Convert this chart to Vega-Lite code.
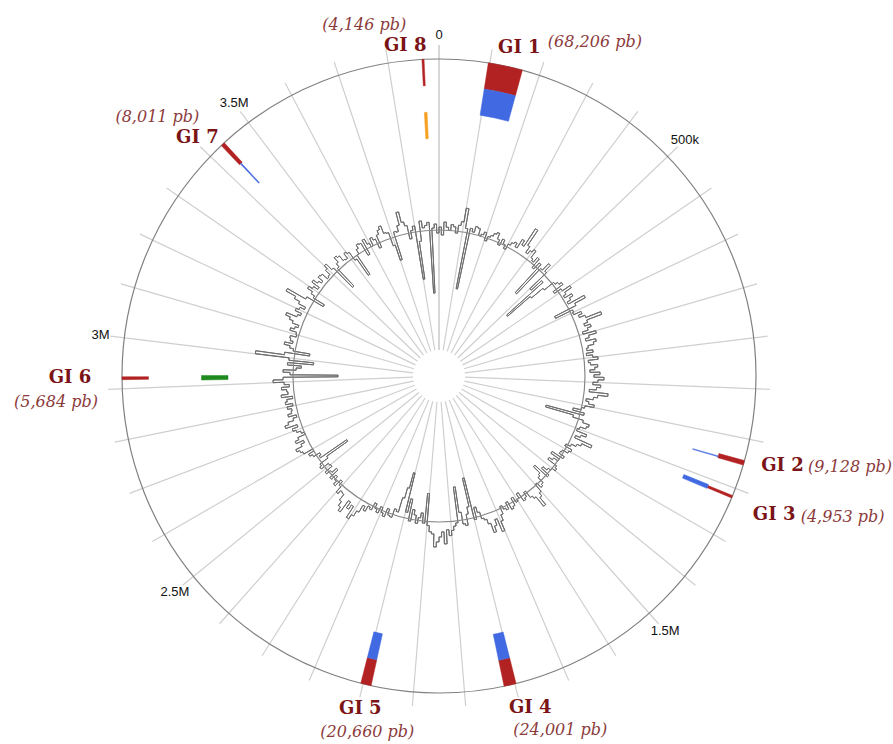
{
  "$schema": "https://vega.github.io/schema/vega-lite/v6.json",
  "width": 878,
  "height": 736,
  "padding": {"left": 0, "top": 8, "right": 15, "bottom": 0},
  "autosize": {"type": "none"},
  "background": "white",
  "config": {"view": {"stroke": null}},
  "datasets": {
    "grid": [
      {"p": 0}, {"p": 100000}, {"p": 200000}, {"p": 300000}, {"p": 400000}, {"p": 500000}, {"p": 600000}, {"p": 700000}, {"p": 800000}, {"p": 900000},
      {"p": 1000000}, {"p": 1100000}, {"p": 1200000}, {"p": 1300000}, {"p": 1400000}, {"p": 1500000}, {"p": 1600000}, {"p": 1700000}, {"p": 1800000}, {"p": 1900000},
      {"p": 2000000}, {"p": 2100000}, {"p": 2200000}, {"p": 2300000}, {"p": 2400000}, {"p": 2500000}, {"p": 2600000}, {"p": 2700000}, {"p": 2800000}, {"p": 2900000},
      {"p": 3000000}, {"p": 3100000}, {"p": 3200000}, {"p": 3300000}, {"p": 3400000}, {"p": 3500000}, {"p": 3600000}, {"p": 3700000}, {"p": 3800000}, {"p": 3900000}
    ],
    "ticks": [
      {"p": 0, "t": "0"}, {"p": 500000, "t": "500k"}, {"p": 1500000, "t": "1.5M"},
      {"p": 2500000, "t": "2.5M"}, {"p": 3000000, "t": "3M"}, {"p": 3500000, "t": "3.5M"}
    ],
    "islands": [
      {"gi": "GI 1", "method": "Integrated", "start": 97000, "end": 165206, "len": "(68,206 pb)"},
      {"gi": "GI 2", "method": "Integrated", "start": 1142700, "end": 1151828, "len": "(9,128 pb)"},
      {"gi": "GI 3", "method": "Integrated", "start": 1215100, "end": 1220053, "len": "(4,953 pb)"},
      {"gi": "GI 4", "method": "Integrated", "start": 1797600, "end": 1821601, "len": "(24,001 pb)"},
      {"gi": "GI 5", "method": "Integrated", "start": 2084000, "end": 2104660, "len": "(20,660 pb)"},
      {"gi": "GI 6", "method": "Integrated", "start": 2917800, "end": 2923484, "len": "(5,684 pb)"},
      {"gi": "GI 7", "method": "Integrated", "start": 3430100, "end": 3438111, "len": "(8,011 pb)"},
      {"gi": "GI 8", "method": "Integrated", "start": 3866500, "end": 3870646, "len": "(4,146 pb)"},
      {"gi": "GI 1", "method": "IslandPath-DIMOB", "start": 97000, "end": 165206},
      {"gi": "GI 2", "method": "IslandPath-DIMOB", "start": 1148000, "end": 1149800},
      {"gi": "GI 3", "method": "IslandPath-DIMOB", "start": 1212500, "end": 1221500},
      {"gi": "GI 4", "method": "IslandPath-DIMOB", "start": 1797600, "end": 1821601},
      {"gi": "GI 5", "method": "IslandPath-DIMOB", "start": 2084000, "end": 2104660},
      {"gi": "GI 7", "method": "IslandPath-DIMOB", "start": 3433000, "end": 3435500},
      {"gi": "GI 8", "method": "SIGI-HMM", "start": 3865500, "end": 3872000},
      {"gi": "GI 6", "method": "IslandPick", "start": 2914500, "end": 2926500}
    ],
    "gc": [
      {"p":0,"gc":0.03},{"p":10000,"gc":-0.05},{"p":20000,"gc":0.08},{"p":30000,"gc":0.03},{"p":40000,"gc":0},{"p":50000,"gc":0.06},{"p":60000,"gc":0.04},{"p":70000,"gc":-0.02},{"p":80000,"gc":0.06},{"p":90000,"gc":0.10},
      {"p":100000,"gc":0.24},{"p":110000,"gc":0.04},{"p":120000,"gc":-0.57},{"p":130000,"gc":0.05},{"p":140000,"gc":0.02},{"p":150000,"gc":0.08},{"p":160000,"gc":0.07},{"p":170000,"gc":0},{"p":180000,"gc":0.02},{"p":190000,"gc":0.05},
      {"p":200000,"gc":-0.03},{"p":210000,"gc":0.02},{"p":220000,"gc":0.04},{"p":230000,"gc":0.07},{"p":240000,"gc":0.09},{"p":250000,"gc":0.03},{"p":260000,"gc":-0.02},{"p":270000,"gc":0.05},{"p":280000,"gc":0.01},{"p":290000,"gc":-0.03},
      {"p":300000,"gc":0.03},{"p":310000,"gc":0.06},{"p":320000,"gc":0.08},{"p":330000,"gc":0.04},{"p":340000,"gc":0.14},{"p":350000,"gc":0.09},{"p":360000,"gc":0.30},{"p":370000,"gc":0.12},{"p":380000,"gc":0.05},{"p":390000,"gc":0.09},
      {"p":400000,"gc":0.12},{"p":410000,"gc":0.04},{"p":420000,"gc":0.02},{"p":430000,"gc":0.08},{"p":440000,"gc":-0.03},{"p":450000,"gc":0.05},{"p":460000,"gc":-0.33},{"p":470000,"gc":0.02},{"p":480000,"gc":0.11},{"p":490000,"gc":0.03},
      {"p":500000,"gc":-0.20},{"p":510000,"gc":-0.06},{"p":520000,"gc":-0.55},{"p":530000,"gc":-0.25},{"p":540000,"gc":-0.10},{"p":550000,"gc":0.02},{"p":560000,"gc":0.05},{"p":570000,"gc":0.08},{"p":580000,"gc":-0.04},{"p":590000,"gc":0.04},
      {"p":600000,"gc":0.13},{"p":610000,"gc":0.05},{"p":620000,"gc":0.02},{"p":630000,"gc":0.10},{"p":640000,"gc":0.06},{"p":650000,"gc":0.02},{"p":660000,"gc":0.20},{"p":670000,"gc":0.08},{"p":680000,"gc":-0.16},{"p":690000,"gc":0.03},
      {"p":700000,"gc":0.02},{"p":710000,"gc":0.10},{"p":720000,"gc":0.06},{"p":730000,"gc":0.12},{"p":740000,"gc":0.28},{"p":750000,"gc":0.12},{"p":760000,"gc":0.08},{"p":770000,"gc":0.14},{"p":780000,"gc":0.10},{"p":790000,"gc":0.04},
      {"p":800000,"gc":0.17},{"p":810000,"gc":0.09},{"p":820000,"gc":0.05},{"p":830000,"gc":0.15},{"p":840000,"gc":0.12},{"p":850000,"gc":0.06},{"p":860000,"gc":0.04},{"p":870000,"gc":0.10},{"p":880000,"gc":0.03},{"p":890000,"gc":0.09},
      {"p":900000,"gc":0.14},{"p":910000,"gc":0.04},{"p":920000,"gc":0.06},{"p":930000,"gc":0.13},{"p":940000,"gc":0.10},{"p":950000,"gc":0.05},{"p":960000,"gc":0.15},{"p":970000,"gc":0.09},{"p":980000,"gc":0.19},{"p":990000,"gc":0.13},
      {"p":1000000,"gc":0.08},{"p":1010000,"gc":0.16},{"p":1020000,"gc":0.12},{"p":1030000,"gc":0.05},{"p":1040000,"gc":0.24},{"p":1050000,"gc":0.14},{"p":1060000,"gc":0.10},{"p":1070000,"gc":0.03},{"p":1080000,"gc":0.06},{"p":1090000,"gc":0.12},
      {"p":1100000,"gc":0.03},{"p":1110000,"gc":0},{"p":1120000,"gc":-0.08},{"p":1130000,"gc":0.04},{"p":1140000,"gc":-0.35},{"p":1150000,"gc":-0.06},{"p":1160000,"gc":0.05},{"p":1170000,"gc":0.12},{"p":1180000,"gc":0.10},{"p":1190000,"gc":0.04},
      {"p":1200000,"gc":0.02},{"p":1210000,"gc":0.13},{"p":1220000,"gc":0.08},{"p":1230000,"gc":0.03},{"p":1240000,"gc":0.22},{"p":1250000,"gc":0.12},{"p":1260000,"gc":0.08},{"p":1270000,"gc":0.03},{"p":1280000,"gc":-0.02},{"p":1290000,"gc":0.06},
      {"p":1300000,"gc":0.04},{"p":1310000,"gc":-0.02},{"p":1320000,"gc":-0.03},{"p":1330000,"gc":0.03},{"p":1340000,"gc":-0.10},{"p":1350000,"gc":0},{"p":1360000,"gc":-0.05},{"p":1370000,"gc":-0.09},{"p":1380000,"gc":0.02},{"p":1390000,"gc":0.04},
      {"p":1400000,"gc":0},{"p":1410000,"gc":-0.03},{"p":1420000,"gc":-0.08},{"p":1430000,"gc":0.02},{"p":1440000,"gc":-0.15},{"p":1450000,"gc":-0.06},{"p":1460000,"gc":-0.04},{"p":1470000,"gc":0.03},{"p":1480000,"gc":0.05},{"p":1490000,"gc":-0.01},
      {"p":1500000,"gc":0.08},{"p":1510000,"gc":0.12},{"p":1520000,"gc":0.21},{"p":1530000,"gc":0.09},{"p":1540000,"gc":0.06},{"p":1550000,"gc":-0.02},{"p":1560000,"gc":0.03},{"p":1570000,"gc":0.05},{"p":1580000,"gc":-0.05},{"p":1590000,"gc":0},
      {"p":1600000,"gc":0.02},{"p":1610000,"gc":-0.04},{"p":1620000,"gc":0.04},{"p":1630000,"gc":0.06},{"p":1640000,"gc":-0.03},{"p":1650000,"gc":0.04},{"p":1660000,"gc":0.02},{"p":1670000,"gc":-0.02},{"p":1680000,"gc":0.06},{"p":1690000,"gc":0.12},
      {"p":1700000,"gc":0.22},{"p":1710000,"gc":0.08},{"p":1720000,"gc":0.14},{"p":1730000,"gc":0.20},{"p":1740000,"gc":0.10},{"p":1750000,"gc":0.05},{"p":1760000,"gc":0.03},{"p":1770000,"gc":-0.04},{"p":1780000,"gc":-0.10},{"p":1790000,"gc":0.02},
      {"p":1800000,"gc":-0.41},{"p":1810000,"gc":-0.12},{"p":1820000,"gc":-0.05},{"p":1830000,"gc":0.06},{"p":1840000,"gc":0.04},{"p":1850000,"gc":-0.08},{"p":1860000,"gc":-0.34},{"p":1870000,"gc":0.02},{"p":1880000,"gc":0.05},{"p":1890000,"gc":0.09},
      {"p":1900000,"gc":0.14},{"p":1910000,"gc":0.08},{"p":1920000,"gc":0.22},{"p":1930000,"gc":0.10},{"p":1940000,"gc":0.15},{"p":1950000,"gc":0.20},{"p":1960000,"gc":0.25},{"p":1970000,"gc":0.12},{"p":1980000,"gc":0.10},{"p":1990000,"gc":0.04},
      {"p":2000000,"gc":-0.28},{"p":2010000,"gc":0.02},{"p":2020000,"gc":-0.08},{"p":2030000,"gc":-0.03},{"p":2040000,"gc":0.03},{"p":2050000,"gc":-0.05},{"p":2060000,"gc":-0.10},{"p":2070000,"gc":0.02},{"p":2080000,"gc":-0.20},{"p":2090000,"gc":-0.06},
      {"p":2100000,"gc":-0.46},{"p":2110000,"gc":-0.30},{"p":2120000,"gc":-0.19},{"p":2130000,"gc":-0.04},{"p":2140000,"gc":-0.06},{"p":2150000,"gc":0.03},{"p":2160000,"gc":0.02},{"p":2170000,"gc":-0.04},{"p":2180000,"gc":0.05},{"p":2190000,"gc":0.02},
      {"p":2200000,"gc":-0.03},{"p":2210000,"gc":0.04},{"p":2220000,"gc":0.01},{"p":2230000,"gc":-0.04},{"p":2240000,"gc":0.04},{"p":2250000,"gc":0.02},{"p":2260000,"gc":0.08},{"p":2270000,"gc":0.04},{"p":2280000,"gc":0.12},{"p":2290000,"gc":0.18},
      {"p":2300000,"gc":0.23},{"p":2310000,"gc":0.10},{"p":2320000,"gc":0.15},{"p":2330000,"gc":0.08},{"p":2340000,"gc":0.22},{"p":2350000,"gc":0.18},{"p":2360000,"gc":0.13},{"p":2370000,"gc":0.06},{"p":2380000,"gc":0.05},{"p":2390000,"gc":0.09},
      {"p":2400000,"gc":0.02},{"p":2410000,"gc":-0.03},{"p":2420000,"gc":0.05},{"p":2430000,"gc":0.01},{"p":2440000,"gc":-0.03},{"p":2450000,"gc":0.03},{"p":2460000,"gc":-0.08},{"p":2470000,"gc":-0.02},{"p":2480000,"gc":0.03},{"p":2490000,"gc":-0.06},
      {"p":2500000,"gc":-0.05},{"p":2510000,"gc":0.04},{"p":2520000,"gc":0.02},{"p":2530000,"gc":-0.08},{"p":2540000,"gc":-0.34},{"p":2550000,"gc":-0.02},{"p":2560000,"gc":-0.04},{"p":2570000,"gc":0.03},{"p":2580000,"gc":0.06},{"p":2590000,"gc":0},
      {"p":2600000,"gc":0.10},{"p":2610000,"gc":0.12},{"p":2620000,"gc":0.15},{"p":2630000,"gc":0.08},{"p":2640000,"gc":0.04},{"p":2650000,"gc":0.12},{"p":2660000,"gc":0.08},{"p":2670000,"gc":0},{"p":2680000,"gc":0.03},{"p":2690000,"gc":0.07},
      {"p":2700000,"gc":0.10},{"p":2710000,"gc":0.04},{"p":2720000,"gc":0.16},{"p":2730000,"gc":0.12},{"p":2740000,"gc":0.06},{"p":2750000,"gc":0.02},{"p":2760000,"gc":0.10},{"p":2770000,"gc":0.06},{"p":2780000,"gc":0.05},{"p":2790000,"gc":0.09},
      {"p":2800000,"gc":0.03},{"p":2810000,"gc":0.10},{"p":2820000,"gc":0.08},{"p":2830000,"gc":0.02},{"p":2840000,"gc":0.13},{"p":2850000,"gc":0.06},{"p":2860000,"gc":0.07},{"p":2870000,"gc":0.12},{"p":2880000,"gc":0.04},{"p":2890000,"gc":0.09},
      {"p":2900000,"gc":0.20},{"p":2910000,"gc":0.10},{"p":2920000,"gc":-0.45},{"p":2930000,"gc":0.03},{"p":2940000,"gc":0.10},{"p":2950000,"gc":-0.03},{"p":2960000,"gc":-0.08},{"p":2970000,"gc":0.06},{"p":2980000,"gc":-0.20},{"p":2990000,"gc":0.05},
      {"p":3000000,"gc":0.39},{"p":3010000,"gc":0.10},{"p":3020000,"gc":-0.15},{"p":3030000,"gc":0.02},{"p":3040000,"gc":0.06},{"p":3050000,"gc":0.12},{"p":3060000,"gc":0.04},{"p":3070000,"gc":0.07},{"p":3080000,"gc":0.08},{"p":3090000,"gc":0.02},
      {"p":3100000,"gc":0.03},{"p":3110000,"gc":0.10},{"p":3120000,"gc":0.06},{"p":3130000,"gc":0.03},{"p":3140000,"gc":0.10},{"p":3150000,"gc":0.14},{"p":3160000,"gc":0.19},{"p":3170000,"gc":0.08},{"p":3180000,"gc":0.05},{"p":3190000,"gc":0.12},
      {"p":3200000,"gc":0.09},{"p":3210000,"gc":0.04},{"p":3220000,"gc":0.12},{"p":3230000,"gc":0.18},{"p":3240000,"gc":0.29},{"p":3250000,"gc":0.08},{"p":3260000,"gc":-0.11},{"p":3270000,"gc":0.02},{"p":3280000,"gc":0.06},{"p":3290000,"gc":0.12},
      {"p":3300000,"gc":0.08},{"p":3310000,"gc":0.03},{"p":3320000,"gc":0.12},{"p":3330000,"gc":0.07},{"p":3340000,"gc":0.04},{"p":3350000,"gc":0.10},{"p":3360000,"gc":0.09},{"p":3370000,"gc":0.02},{"p":3380000,"gc":0.03},{"p":3390000,"gc":0.09},
      {"p":3400000,"gc":0.13},{"p":3410000,"gc":0.05},{"p":3420000,"gc":-0.22},{"p":3430000,"gc":0.02},{"p":3440000,"gc":0.06},{"p":3450000,"gc":0.12},{"p":3460000,"gc":0.10},{"p":3470000,"gc":0.04},{"p":3480000,"gc":0.03},{"p":3490000,"gc":0.09},
      {"p":3500000,"gc":0.07},{"p":3510000,"gc":-0.03},{"p":3520000,"gc":-0.23},{"p":3530000,"gc":0},{"p":3540000,"gc":0.05},{"p":3550000,"gc":0.09},{"p":3560000,"gc":0.08},{"p":3570000,"gc":-0.06},{"p":3580000,"gc":0.10},{"p":3590000,"gc":0.04},
      {"p":3600000,"gc":0},{"p":3610000,"gc":0.08},{"p":3620000,"gc":0.05},{"p":3630000,"gc":-0.05},{"p":3640000,"gc":0.08},{"p":3650000,"gc":0.12},{"p":3660000,"gc":0.15},{"p":3670000,"gc":0.07},{"p":3680000,"gc":0.06},{"p":3690000,"gc":-0.08},
      {"p":3700000,"gc":-0.24},{"p":3710000,"gc":0.05},{"p":3720000,"gc":0.04},{"p":3730000,"gc":0.10},{"p":3740000,"gc":0.23},{"p":3750000,"gc":0.12},{"p":3760000,"gc":0.08},{"p":3770000,"gc":-0.06},{"p":3780000,"gc":0.02},{"p":3790000,"gc":0.06},
      {"p":3800000,"gc":-0.48},{"p":3810000,"gc":-0.10},{"p":3820000,"gc":0.10},{"p":3830000,"gc":0.03},{"p":3840000,"gc":0.05},{"p":3850000,"gc":0.08},{"p":3860000,"gc":-0.63},{"p":3870000,"gc":0.02},{"p":3880000,"gc":0.06},{"p":3890000,"gc":-0.03},
      {"p":3900000,"gc":0.03}
    ]
  },
  "layer": [
    {
      "data": {"name": "grid"},
      "mark": {"type": "arc", "filled": false, "color": "#cfcfcf", "strokeWidth": 1.2},
      "encoding": {
        "theta": {"field": "p", "type": "quantitative", "scale": {"domain": [0, 3900000]}, "stack": null},
        "theta2": {"field": "p"},
        "radius": {"datum": 331, "scale": {"domain": [0, 400], "range": [0, 400]}},
        "radius2": {"datum": 26}
      }
    },
    {
      "data": {"name": "gc"},
      "transform": [
        {"window": [{"op": "lead", "field": "p", "as": "p2"}, {"op": "lead", "field": "gc", "as": "gc2"}], "sort": [{"field": "p"}]},
        {"filter": "datum.p2 != null"}
      ],
      "mark": {"type": "arc", "filled": false, "color": "#6e6e6e", "strokeWidth": 1},
      "encoding": {
        "theta": {"field": "p", "type": "quantitative", "scale": {"domain": [0, 3900000]}, "stack": null},
        "theta2": {"field": "p2"},
        "radius": {"field": "gc", "type": "quantitative", "scale": {"domain": [-1, 1], "range": [46, 246]}},
        "radius2": {"field": "gc"}
      }
    },
    {
      "data": {"name": "gc"},
      "transform": [
        {"window": [{"op": "lead", "field": "p", "as": "p2"}, {"op": "lead", "field": "gc", "as": "gc2"}], "sort": [{"field": "p"}]},
        {"filter": "datum.p2 != null"}
      ],
      "mark": {"type": "arc", "filled": false, "color": "#6e6e6e", "strokeWidth": 1},
      "encoding": {
        "theta": {"field": "p2", "type": "quantitative", "scale": {"domain": [0, 3900000]}, "stack": null},
        "theta2": {"field": "p2"},
        "radius": {"field": "gc", "type": "quantitative", "scale": {"domain": [-1, 1], "range": [46, 246]}},
        "radius2": {"field": "gc2"}
      }
    },
    {
      "data": {"values": [{"ring": "gc baseline"}]},
      "mark": {"type": "arc", "filled": false, "color": "#888888", "strokeWidth": 1.2},
      "encoding": {
        "theta": {"datum": 0, "type": "quantitative", "scale": {"domain": [0, 3900000]}, "stack": null},
        "theta2": {"datum": 3900000},
        "radius": {"datum": 146, "scale": {"domain": [0, 400], "range": [0, 400]}},
        "radius2": {"datum": 146}
      }
    },
    {
      "data": {"values": [{"ring": "genome"}]},
      "mark": {"type": "arc", "filled": false, "color": "#808080", "strokeWidth": 1.2},
      "encoding": {
        "theta": {"datum": 0, "type": "quantitative", "scale": {"domain": [0, 3900000]}, "stack": null},
        "theta2": {"datum": 3900000},
        "radius": {"datum": 317, "scale": {"domain": [0, 400], "range": [0, 400]}},
        "radius2": {"datum": 317}
      }
    },
    {
      "data": {"name": "islands"},
      "transform": [{"filter": "datum.method == 'Integrated'"}],
      "mark": {"type": "arc", "color": "#b22222", "stroke": "#b22222", "strokeWidth": 0.5},
      "encoding": {
        "theta": {"field": "start", "type": "quantitative", "scale": {"domain": [0, 3900000]}, "stack": null},
        "theta2": {"field": "end"},
        "radius": {"datum": 4, "scale": {"domain": [0, 4], "range": [211, 317]}},
        "radius2": {"datum": 3}
      }
    },
    {
      "data": {"name": "islands"},
      "transform": [{"filter": "datum.method == 'IslandPath-DIMOB'"}],
      "mark": {"type": "arc", "color": "#4169e1", "stroke": "#4169e1", "strokeWidth": 0.5},
      "encoding": {
        "theta": {"field": "start", "type": "quantitative", "scale": {"domain": [0, 3900000]}, "stack": null},
        "theta2": {"field": "end"},
        "radius": {"datum": 3, "scale": {"domain": [0, 4], "range": [211, 317]}},
        "radius2": {"datum": 2}
      }
    },
    {
      "data": {"name": "islands"},
      "transform": [{"filter": "datum.method == 'SIGI-HMM'"}],
      "mark": {"type": "arc", "color": "#f5a020", "stroke": "#f5a020", "strokeWidth": 0.5},
      "encoding": {
        "theta": {"field": "start", "type": "quantitative", "scale": {"domain": [0, 3900000]}, "stack": null},
        "theta2": {"field": "end"},
        "radius": {"datum": 2, "scale": {"domain": [0, 4], "range": [211, 317]}},
        "radius2": {"datum": 1}
      }
    },
    {
      "data": {"name": "islands"},
      "transform": [{"filter": "datum.method == 'IslandPick'"}],
      "mark": {"type": "arc", "color": "#1e8a1e", "stroke": "#1e8a1e", "strokeWidth": 0.5},
      "encoding": {
        "theta": {"field": "start", "type": "quantitative", "scale": {"domain": [0, 3900000]}, "stack": null},
        "theta2": {"field": "end"},
        "radius": {"datum": 1, "scale": {"domain": [0, 4], "range": [211, 317]}},
        "radius2": {"datum": 0}
      }
    },
    {
      "data": {"name": "ticks"},
      "mark": {"type": "text", "font": "Liberation Sans", "fontSize": 13, "color": "#111111"},
      "encoding": {
        "theta": {"field": "p", "type": "quantitative", "scale": {"domain": [0, 3900000]}},
        "radius": {"datum": 341, "scale": {"domain": [0, 400], "range": [0, 400]}},
        "text": {"field": "t"}
      }
    },
    {"data": {"name": "islands"}, "transform": [{"filter": "datum.method == 'Integrated' && datum.gi == 'GI 1'"}],
     "mark": {"type": "text", "font": "DejaVu Serif", "fontWeight": "bold", "fontSize": 18, "color": "#7b1416", "dx": 29, "dy": -2.5},
     "encoding": {"theta": {"field": "start", "type": "quantitative", "scale": {"domain": [0, 3900000]}}, "radius": {"datum": 330, "scale": {"domain": [0, 400], "range": [0, 400]}}, "text": {"field": "gi"}}},
    {"data": {"name": "islands"}, "transform": [{"filter": "datum.method == 'Integrated' && datum.gi == 'GI 2'"}],
     "mark": {"type": "text", "font": "DejaVu Serif", "fontWeight": "bold", "fontSize": 18, "color": "#7b1416", "dx": 25.5, "dy": 2},
     "encoding": {"theta": {"field": "start", "type": "quantitative", "scale": {"domain": [0, 3900000]}}, "radius": {"datum": 330, "scale": {"domain": [0, 400], "range": [0, 400]}}, "text": {"field": "gi"}}},
    {"data": {"name": "islands"}, "transform": [{"filter": "datum.method == 'Integrated' && datum.gi == 'GI 3'"}],
     "mark": {"type": "text", "font": "DejaVu Serif", "fontWeight": "bold", "fontSize": 18, "color": "#7b1416", "dx": 29.5, "dy": 15},
     "encoding": {"theta": {"field": "start", "type": "quantitative", "scale": {"domain": [0, 3900000]}}, "radius": {"datum": 330, "scale": {"domain": [0, 400], "range": [0, 400]}}, "text": {"field": "gi"}}},
    {"data": {"name": "islands"}, "transform": [{"filter": "datum.method == 'Integrated' && datum.gi == 'GI 4'"}],
     "mark": {"type": "text", "font": "DejaVu Serif", "fontWeight": "bold", "fontSize": 18, "color": "#7b1416", "dx": 11, "dy": 12},
     "encoding": {"theta": {"field": "start", "type": "quantitative", "scale": {"domain": [0, 3900000]}}, "radius": {"datum": 330, "scale": {"domain": [0, 400], "range": [0, 400]}}, "text": {"field": "gi"}}},
    {"data": {"name": "islands"}, "transform": [{"filter": "datum.method == 'Integrated' && datum.gi == 'GI 5'"}],
     "mark": {"type": "text", "font": "DejaVu Serif", "fontWeight": "bold", "fontSize": 18, "color": "#7b1416", "dx": -8, "dy": 11},
     "encoding": {"theta": {"field": "start", "type": "quantitative", "scale": {"domain": [0, 3900000]}}, "radius": {"datum": 330, "scale": {"domain": [0, 400], "range": [0, 400]}}, "text": {"field": "gi"}}},
    {"data": {"name": "islands"}, "transform": [{"filter": "datum.method == 'Integrated' && datum.gi == 'GI 6'"}],
     "mark": {"type": "text", "font": "DejaVu Serif", "fontWeight": "bold", "fontSize": 18, "color": "#7b1416", "dx": -39, "dy": -2},
     "encoding": {"theta": {"field": "start", "type": "quantitative", "scale": {"domain": [0, 3900000]}}, "radius": {"datum": 330, "scale": {"domain": [0, 400], "range": [0, 400]}}, "text": {"field": "gi"}}},
    {"data": {"name": "islands"}, "transform": [{"filter": "datum.method == 'Integrated' && datum.gi == 'GI 7'"}],
     "mark": {"type": "text", "font": "DejaVu Serif", "fontWeight": "bold", "fontSize": 18, "color": "#7b1416", "dx": -15, "dy": 1.5},
     "encoding": {"theta": {"field": "start", "type": "quantitative", "scale": {"domain": [0, 3900000]}}, "radius": {"datum": 330, "scale": {"domain": [0, 400], "range": [0, 400]}}, "text": {"field": "gi"}}},
    {"data": {"name": "islands"}, "transform": [{"filter": "datum.method == 'Integrated' && datum.gi == 'GI 8'"}],
     "mark": {"type": "text", "font": "DejaVu Serif", "fontWeight": "bold", "fontSize": 18, "color": "#7b1416", "dx": -16, "dy": -0.5},
     "encoding": {"theta": {"field": "start", "type": "quantitative", "scale": {"domain": [0, 3900000]}}, "radius": {"datum": 330, "scale": {"domain": [0, 400], "range": [0, 400]}}, "text": {"field": "gi"}}},
    {"data": {"name": "islands"}, "transform": [{"filter": "datum.method == 'Integrated' && datum.gi == 'GI 1'"}],
     "mark": {"type": "text", "font": "DejaVu Serif", "fontStyle": "italic", "fontSize": 16, "color": "#8c3b3b", "dx": 104.5, "dy": -8},
     "encoding": {"theta": {"field": "start", "type": "quantitative", "scale": {"domain": [0, 3900000]}}, "radius": {"datum": 330, "scale": {"domain": [0, 400], "range": [0, 400]}}, "text": {"field": "len"}}},
    {"data": {"name": "islands"}, "transform": [{"filter": "datum.method == 'Integrated' && datum.gi == 'GI 2'"}],
     "mark": {"type": "text", "font": "DejaVu Serif", "fontStyle": "italic", "fontSize": 16, "color": "#8c3b3b", "dx": 93, "dy": 3},
     "encoding": {"theta": {"field": "start", "type": "quantitative", "scale": {"domain": [0, 3900000]}}, "radius": {"datum": 330, "scale": {"domain": [0, 400], "range": [0, 400]}}, "text": {"field": "len"}}},
    {"data": {"name": "islands"}, "transform": [{"filter": "datum.method == 'Integrated' && datum.gi == 'GI 3'"}],
     "mark": {"type": "text", "font": "DejaVu Serif", "fontStyle": "italic", "fontSize": 16, "color": "#8c3b3b", "dx": 98, "dy": 16.5},
     "encoding": {"theta": {"field": "start", "type": "quantitative", "scale": {"domain": [0, 3900000]}}, "radius": {"datum": 330, "scale": {"domain": [0, 400], "range": [0, 400]}}, "text": {"field": "len"}}},
    {"data": {"name": "islands"}, "transform": [{"filter": "datum.method == 'Integrated' && datum.gi == 'GI 4'"}],
     "mark": {"type": "text", "font": "DejaVu Serif", "fontStyle": "italic", "fontSize": 16, "color": "#8c3b3b", "dx": 41, "dy": 34},
     "encoding": {"theta": {"field": "start", "type": "quantitative", "scale": {"domain": [0, 3900000]}}, "radius": {"datum": 330, "scale": {"domain": [0, 400], "range": [0, 400]}}, "text": {"field": "len"}}},
    {"data": {"name": "islands"}, "transform": [{"filter": "datum.method == 'Integrated' && datum.gi == 'GI 5'"}],
     "mark": {"type": "text", "font": "DejaVu Serif", "fontStyle": "italic", "fontSize": 16, "color": "#8c3b3b", "dx": -1, "dy": 34},
     "encoding": {"theta": {"field": "start", "type": "quantitative", "scale": {"domain": [0, 3900000]}}, "radius": {"datum": 330, "scale": {"domain": [0, 400], "range": [0, 400]}}, "text": {"field": "len"}}},
    {"data": {"name": "islands"}, "transform": [{"filter": "datum.method == 'Integrated' && datum.gi == 'GI 6'"}],
     "mark": {"type": "text", "font": "DejaVu Serif", "fontStyle": "italic", "fontSize": 16, "color": "#8c3b3b", "dx": -53, "dy": 22},
     "encoding": {"theta": {"field": "start", "type": "quantitative", "scale": {"domain": [0, 3900000]}}, "radius": {"datum": 330, "scale": {"domain": [0, 400], "range": [0, 400]}}, "text": {"field": "len"}}},
    {"data": {"name": "islands"}, "transform": [{"filter": "datum.method == 'Integrated' && datum.gi == 'GI 7'"}],
     "mark": {"type": "text", "font": "DejaVu Serif", "fontStyle": "italic", "fontSize": 16, "color": "#8c3b3b", "dx": -55, "dy": -19.5},
     "encoding": {"theta": {"field": "start", "type": "quantitative", "scale": {"domain": [0, 3900000]}}, "radius": {"datum": 330, "scale": {"domain": [0, 400], "range": [0, 400]}}, "text": {"field": "len"}}},
    {"data": {"name": "islands"}, "transform": [{"filter": "datum.method == 'Integrated' && datum.gi == 'GI 8'"}],
     "mark": {"type": "text", "font": "DejaVu Serif", "fontStyle": "italic", "fontSize": 16, "color": "#8c3b3b", "dx": -57, "dy": -21.5},
     "encoding": {"theta": {"field": "start", "type": "quantitative", "scale": {"domain": [0, 3900000]}}, "radius": {"datum": 330, "scale": {"domain": [0, 400], "range": [0, 400]}}, "text": {"field": "len"}}}
  ],
  "resolve": {"scale": {"radius": "independent"}}
}
